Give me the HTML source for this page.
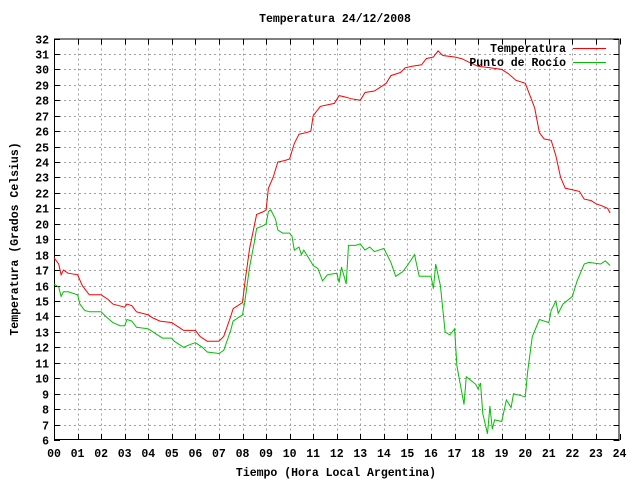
<!DOCTYPE html>
<html><head><meta charset="utf-8"><style>
html,body{margin:0;padding:0;background:#fff;}
svg text{font-family:"Liberation Mono",monospace;font-weight:bold;font-size:11.5px;fill:#000;}
</style></head><body>
<svg id="chart" width="640" height="480" xmlns="http://www.w3.org/2000/svg">
<text x="335" y="22" text-anchor="middle">Temperatura 24/12/2008</text>
<text x="336" y="476" text-anchor="middle">Tiempo (Hora Local Argentina)</text>
<text x="0" y="0" text-anchor="middle" transform="translate(18,239) rotate(-90)">Temperatura (Grados Celsius)</text>
<g id="grid"></g>
<g id="axes"></g>
<g id="series"></g>
<g id="legend"></g>
</svg>
<script>
const xTicks=["00","01","02","03","04","05","06","07","08","09","10","11","12","13","14","15","16","17","18","19","20","21","22","23","24"];
const yTickValues=[6,7,8,9,10,11,12,13,14,15,16,17,18,19,20,21,22,23,24,25,26,27,28,29,30,31,32];
const tempHours=[0,0.2,0.3,0.4,0.6,1.0,1.2,1.4,1.5,2.0,2.3,2.5,3.0,3.1,3.3,3.5,4.0,4.2,4.5,5.0,5.2,5.5,6.0,6.2,6.5,7.0,7.2,7.5,7.6,8.0,8.1,8.3,8.6,8.9,9.0,9.1,9.3,9.5,9.8,10.0,10.2,10.4,10.7,10.9,11.0,11.3,11.6,11.9,12.1,12.4,12.6,13.0,13.2,13.6,13.9,14.1,14.3,14.7,14.9,15.2,15.6,15.8,16.1,16.3,16.5,17.0,17.3,17.7,18.0,18.5,19.0,19.3,19.6,20.0,20.2,20.4,20.6,20.8,21.1,21.3,21.5,21.7,22.0,22.3,22.5,22.8,23.0,23.2,23.5,23.6];
const tempValues=[17.8,17.4,16.7,17.0,16.8,16.7,16.0,15.6,15.4,15.4,15.1,14.8,14.6,14.8,14.7,14.3,14.1,13.9,13.7,13.6,13.4,13.1,13.1,12.7,12.4,12.4,12.7,14.0,14.5,14.9,16.2,18.4,20.6,20.8,20.9,22.3,23.0,24.0,24.1,24.2,25.2,25.8,25.9,26.0,27.0,27.6,27.7,27.8,28.3,28.2,28.1,28.0,28.5,28.6,28.9,29.1,29.6,29.8,30.1,30.2,30.3,30.7,30.8,31.2,30.9,30.8,30.7,30.4,30.2,30.1,30.0,29.7,29.3,29.1,28.3,27.5,25.9,25.5,25.4,24.4,23.0,22.3,22.2,22.1,21.6,21.5,21.3,21.2,21.0,20.7];
const dewHours=[0,0.2,0.3,0.4,0.6,1.0,1.1,1.3,1.5,2.0,2.2,2.5,2.8,3.0,3.1,3.3,3.5,4.0,4.3,4.6,5.0,5.1,5.5,5.8,6.0,6.3,6.5,7.0,7.2,7.5,7.6,8.0,8.1,8.3,8.5,8.6,8.9,9.0,9.1,9.2,9.4,9.5,9.7,10.0,10.1,10.2,10.4,10.5,10.6,10.8,11.0,11.2,11.4,11.6,12.0,12.1,12.2,12.4,12.5,12.8,13.0,13.2,13.4,13.6,14.0,14.3,14.5,14.8,15.0,15.3,15.5,16.0,16.1,16.2,16.4,16.6,16.8,17.0,17.1,17.4,17.5,17.9,18.0,18.1,18.2,18.4,18.5,18.6,18.7,19.0,19.2,19.4,19.5,20.0,20.1,20.3,20.6,21.0,21.1,21.3,21.4,21.6,22.0,22.2,22.5,22.7,23.2,23.4,23.6];
const dewValues=[16.1,15.9,15.3,15.6,15.6,15.4,14.8,14.4,14.3,14.3,14.0,13.6,13.4,13.4,13.8,13.7,13.3,13.2,12.9,12.6,12.6,12.4,12.0,12.2,12.3,12.0,11.7,11.6,11.8,13.1,13.7,14.1,15.0,17.2,18.8,19.7,19.9,20.0,20.8,20.9,20.3,19.6,19.4,19.4,19.2,18.3,18.5,18.0,18.3,17.8,17.3,17.1,16.3,16.7,16.8,16.2,17.2,16.1,18.6,18.6,18.7,18.3,18.5,18.2,18.4,17.5,16.6,16.9,17.3,18.0,16.6,16.6,15.8,17.4,16.0,13.0,12.8,13.2,10.8,8.3,10.1,9.6,9.3,9.7,7.7,6.4,8.2,6.7,7.3,7.2,8.6,8.1,9.0,8.8,10.4,12.7,13.8,13.6,14.4,15.0,14.2,14.8,15.3,16.3,17.4,17.5,17.4,17.6,17.3];
const L=54,R=619.5,T=38.5,B=440;
const xs=h=>L+(R-L)*h/24;
const ys=v=>B-(B-T)*(v-6)/26;
const NS="http://www.w3.org/2000/svg";
function mk(tag,attrs,parent){const e=document.createElementNS(NS,tag);for(const k in attrs)e.setAttribute(k,attrs[k]);parent.appendChild(e);return e;}
const grid=document.getElementById('grid'),axes=document.getElementById('axes'),series=document.getElementById('series'),legend=document.getElementById('legend');
xTicks.forEach((t,i)=>{const x=Math.round(xs(i))+0.5;
 if(i>0&&i<24){const g=mk('line',{x1:x,x2:x,y1:T,y2:B,stroke:'#a0a0a0','stroke-dasharray':'2,3'},grid);
 
 }
 const tk=mk('line',{x1:x,x2:x,y1:B,y2:B-6,stroke:'#000'},axes);
 const tk2=mk('line',{x1:x,x2:x,y1:T,y2:T+6,stroke:'#000'},axes);
 const tx=mk('text',{x:xs(i),y:B+17,'text-anchor':'middle'},axes);tx.textContent=t;
 
 
});
yTickValues.forEach(v=>{const y=Math.round(ys(v))+0.5;
 if(v>6&&v<32){const g=mk('line',{x1:L,x2:R,y1:y,y2:y,stroke:'#a0a0a0','stroke-dasharray':'2,3'},grid);
 
 }
 const tk=mk('line',{x1:L,x2:L+6,y1:y,y2:y,stroke:'#000'},axes);
 const tk2=mk('line',{x1:R-6,x2:R,y1:y,y2:y,stroke:'#000'},axes);
 const tx=mk('text',{x:L-5,y:y+4,'text-anchor':'end'},axes);tx.textContent=v;
 
 
});
const frame=mk('rect',{x:L+0.5,y:T+0.5,width:R-L-1,height:B-T-1,fill:'none',stroke:'#000'},axes);


function path(hs,vs,color,name){const d=hs.map((h,i)=>(i?'L':'M')+xs(h).toFixed(1)+','+ys(vs[i]).toFixed(1)).join('');
 const p=mk('path',{d:d,fill:'none',stroke:color,'stroke-width':1},series);
 
 }
path(dewHours,dewValues,'#00c000','dew-point-line');
path(tempHours,tempValues,'#ff0000','temperature-line');
[['Temperatura','#ff0000',48,'legend-temperature'],['Punto de Rocío','#00c000',62,'legend-dew-point']].forEach(([lab,c,y,n])=>{
 const t=mk('text',{x:566,y:y+4,'text-anchor':'end'},legend);t.textContent=lab;
 
 
 const l=mk('line',{x1:573,x2:606,y1:y+0.5,y2:y+0.5,stroke:c},legend);
 
 
});
</script>
</body></html>
